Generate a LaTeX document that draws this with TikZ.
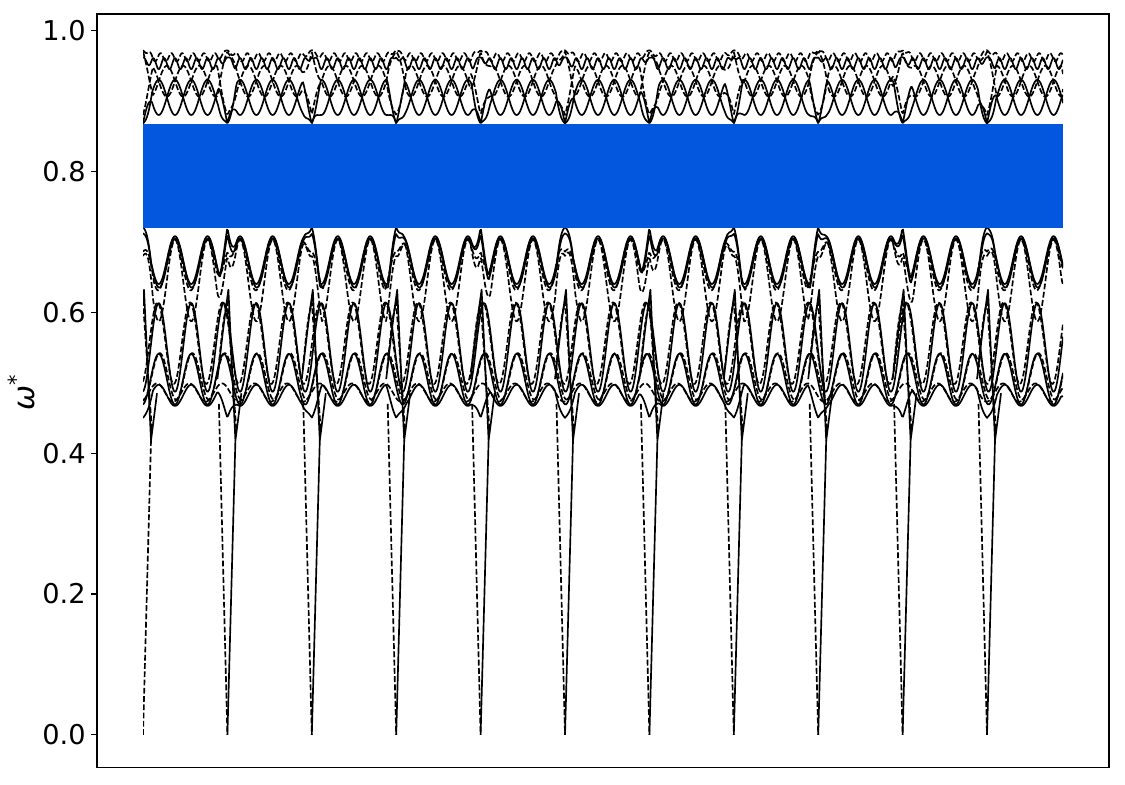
\documentclass[tikz,border=0pt]{standalone}
\usepackage{fontspec}
\setmainfont{DejaVu Sans}
\usetikzlibrary{calc}
\definecolor{bandblue}{RGB}{2,87,222}

\begin{document}
\begin{tikzpicture}[x=0.02cm, y=14.09cm,
    declare function={ph(\xx)=mod((\xx-175)/32.54,1)*360;
      dd(\xx)=min(mod(\xx-143,84.4),84.4-mod(\xx-143,84.4));
      tip(\base,\targ,\xx,\wid)=\base+max(0,1-dd(\xx)/\wid)*(\targ-\base);},
    curve/.style={line width=0.95pt, line join=round},
    dcurve/.style={curve, dash pattern=on 3.3pt off 1.4pt},
    ticklab/.style={anchor=east, inner sep=0pt, font=\fontsize{15.5}{18}\selectfont}]
  \useasboundingbox (0,-0.07097) rectangle (1125,1.04329);

  % bands
  \begin{scope}[domain=143:1063, samples=921]
    \clip (143,-0.01) rectangle (1063,1.0);
    % upper group
    \draw[curve] plot (\x, {tip(0.905+0.025*cos(ph(\x)),0.868,\x,9)});
    \draw[curve] plot (\x, {tip(0.905-0.025*cos(ph(\x)),0.868,\x,9)});
    \draw[dcurve] plot (\x, {tip(0.928+0.022*cos(ph(\x)+90),0.97,\x,10)});
    \draw[dcurve] plot (\x, {tip(0.928-0.022*cos(ph(\x)+90),0.88,\x,10)});
    \draw[curve] plot (\x, {tip(0.953+0.008*cos(3*ph(\x)),0.962,\x,8)});
    \draw[dcurve] plot (\x, {tip(0.962+0.006*cos(3*ph(\x)+120),0.972,\x,10)});
    % band under the gap
    \draw[curve] plot (\x, {tip(0.674+0.034*cos(ph(\x)),0.721,\x,8)});
    \draw[curve] plot (\x, {tip(0.670+0.035*cos(ph(\x)-5),0.712,\x,8)});
    \draw[dcurve] plot (\x, {tip(0.668+0.037*cos(ph(\x)+6),0.686,\x,11)});
    \draw[dcurve] plot (\x, {tip(0.645+0.058*cos(ph(\x)),0.68,\x,10)});
    % middle
    \draw[curve] plot (\x, {0.55-0.063*cos(ph(\x))});
    \draw[dcurve] plot (\x, {0.556-0.058*cos(ph(\x)+14)});
    % lower
    \draw[curve] plot (\x, {0.505-0.036*cos(ph(\x))});
    \draw[dcurve] plot (\x, {0.509-0.033*cos(ph(\x)-12)});
    \draw[curve] plot (\x, {tip(0.482-0.015*cos(ph(\x)),0.45,\x,10)});
    \draw[dcurve] plot (\x, {0.486-0.013*cos(ph(\x)+20)});

    % spikes down to zero
    \draw[dcurve] (143,0) -- (151,0.418);
    \foreach \k in {1,...,10}{
      \pgfmathsetmacro\xs{143+84.4*\k}
      \draw[dcurve] (\xs-8.5,0.47) -- (\xs,0);
      \draw[curve] (\xs,0) -- (\xs+8,0.418);
    }
    \foreach \k in {0,...,10}{
      \pgfmathsetmacro\xs{143+84.4*\k}
      \draw[curve] (\xs-10,0.505) .. controls (\xs-4,0.58) .. (\xs+1,0.632)
        -- (\xs+8,0.418) .. controls (\xs+10,0.44) .. (\xs+14,0.485);
      \draw[dcurve] (\xs-9,0.52) .. controls (\xs-4,0.59) .. (\xs,0.615) -- (\xs+9,0.43);
    }
  \end{scope}

  % gap
  \fill[bandblue] (143,0.7197) rectangle (1063,0.867);

  % axes
  \draw[line width=0.6pt] (97,-0.0468) rectangle (1109,1.0234);
  \foreach \v [count=\i] in {0.0,0.2,0.4,0.6,0.8,1.0}{
    \draw[line width=0.6pt] (91,\v) -- (97,\v);
    \node[ticklab] (tick\i) at (86,\v) {\v};
  }
  \node[rotate=90, font=\fontsize{17}{20}\selectfont] (ylab) at (21,0.486)
    {\itshape ω\textsuperscript{\upshape *}};
\end{tikzpicture}
\end{document}
